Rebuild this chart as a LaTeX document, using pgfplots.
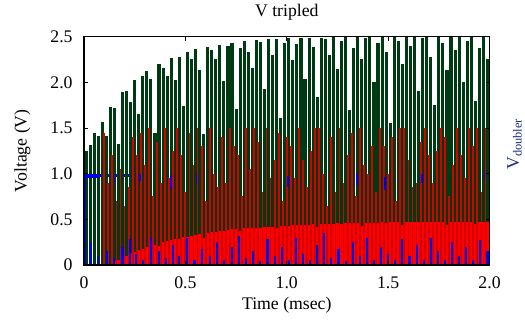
\documentclass[border=0pt]{standalone}
\usepackage{fontspec}
\setmainfont{Liberation Serif}
\usepackage{pgfplots}
\pgfplotsset{compat=1.18}
\definecolor{vgreen}{RGB}{0,58,18}
\definecolor{vred}{RGB}{255,0,0}
\definecolor{vdred}{RGB}{215,0,0}
\definecolor{vblue}{RGB}{0,0,240}
\definecolor{vnavy}{RGB}{25,45,130}
\begin{document}
\fontsize{13.5}{16}\selectfont
\begin{tikzpicture}
\useasboundingbox (0,0) rectangle (400pt,243.8pt);
\begin{axis}[
 at={(64pt,41.9pt)}, anchor=south west,
 scale only axis, width=309pt, height=174pt,
 font=\fontsize{13.5}{16}\selectfont,
 xmin=0, xmax=2, ymin=0, ymax=2.5,
 xtick={0,0.5,1,1.5,2}, xticklabels={0,0.5,1.0,1.5,2.0},
 ytick={0,0.5,1,1.5,2,2.5}, yticklabels={0,0.5,1.0,1.5,2.0,2.5},
 yticklabel style={xshift=-4pt},
 xticklabel style={yshift=-4pt},
 tick align=inside, major tick length=3pt,
 tick style={black, line width=0.7pt},
 axis on top, axis line style={line width=0.8pt},
 clip mode=individual,
]
% blue band under green
\addplot[vblue, line width=2pt] coordinates {(0.07,0.98)(0.22,0.98)};
% green (V tripled)
\addplot[vgreen, ycomb, line width=2.4pt] coordinates {
(0.01,1.25)(0.03,1.31)(0.05,1.44)(0.07,1.41)(0.09,1.57)(0.11,1.41)(0.13,1.73)(0.15,1.72)(0.17,1.32)(0.19,1.89)
(0.21,1.90)(0.23,1.78)(0.25,2.02)(0.27,1.65)(0.29,2.07)(0.31,2.12)(0.33,2.04)(0.35,1.44)(0.37,2.20)(0.39,2.16)
(0.41,2.07)(0.43,2.27)(0.45,2.02)(0.47,2.28)(0.49,1.74)(0.51,2.33)(0.53,2.25)(0.55,2.36)(0.57,2.13)(0.59,1.43)
(0.61,2.39)(0.63,2.35)(0.65,2.26)(0.67,2.41)(0.69,2.01)(0.71,2.40)(0.73,2.43)(0.75,1.71)(0.77,2.37)(0.79,2.45)
(0.81,2.33)(0.83,2.16)(0.85,2.46)(0.87,2.44)(0.89,1.93)(0.91,2.47)(0.93,2.30)(0.95,2.47)(0.97,1.61)(0.99,2.43)
(1.01,2.49)(1.03,2.24)(1.05,2.42)(1.07,2.49)(1.09,2.04)(1.11,2.49)(1.13,2.39)(1.15,1.84)(1.17,2.49)(1.19,2.47)
(1.21,2.30)(1.23,2.50)(1.25,2.15)(1.27,2.45)(1.29,2.50)(1.31,1.70)(1.33,2.38)(1.35,2.50)(1.37,2.25)(1.39,2.48)
(1.41,2.50)(1.43,2.00)(1.45,2.43)(1.47,2.50)(1.49,2.33)(1.51,1.55)(1.53,2.50)(1.55,2.45)(1.57,2.20)(1.59,2.50)
(1.61,2.40)(1.63,2.50)(1.65,1.90)(1.67,2.48)(1.69,2.50)(1.71,2.28)(1.73,1.75)(1.75,2.50)(1.77,2.43)(1.79,2.13)
(1.81,2.50)(1.83,2.35)(1.85,2.50)(1.87,2.00)(1.89,2.45)(1.91,2.50)(1.93,1.80)(1.95,2.38)(1.97,2.50)(1.99,2.25)
};
% red lower envelope
\addplot[vred, ycomb, line width=2.4pt] coordinates {
(0.13,0.01)(0.15,0.04)(0.17,0.06)(0.19,0.08)(0.21,0.10)(0.23,0.13)(0.25,0.14)(0.27,0.16)(0.29,0.17)(0.31,0.20)
(0.33,0.21)(0.35,0.22)(0.37,0.21)(0.39,0.25)(0.41,0.26)(0.43,0.27)(0.45,0.29)(0.47,0.29)(0.49,0.31)(0.51,0.31)
(0.53,0.32)(0.55,0.33)(0.57,0.34)(0.59,0.30)(0.61,0.35)(0.63,0.36)(0.65,0.36)(0.67,0.37)(0.69,0.37)(0.71,0.38)
(0.73,0.39)(0.75,0.39)(0.77,0.37)(0.79,0.40)(0.81,0.40)(0.83,0.41)(0.85,0.41)(0.87,0.41)(0.89,0.42)(0.91,0.42)
(0.93,0.42)(0.95,0.40)(0.97,0.43)(0.99,0.43)(1.01,0.43)(1.03,0.44)(1.05,0.44)(1.07,0.44)(1.09,0.44)(1.11,0.44)
(1.13,0.45)(1.15,0.42)(1.17,0.45)(1.19,0.45)(1.21,0.45)(1.23,0.45)(1.25,0.46)(1.27,0.45)(1.29,0.46)(1.31,0.46)
(1.33,0.46)(1.35,0.46)(1.37,0.43)(1.39,0.46)(1.41,0.46)(1.43,0.46)(1.45,0.46)(1.47,0.47)(1.49,0.46)(1.51,0.47)
(1.53,0.47)(1.55,0.47)(1.57,0.44)(1.59,0.47)(1.61,0.47)(1.63,0.47)(1.65,0.47)(1.67,0.47)(1.69,0.47)(1.71,0.47)
(1.73,0.47)(1.75,0.47)(1.77,0.47)(1.79,0.44)(1.81,0.47)(1.83,0.47)(1.85,0.47)(1.87,0.47)(1.89,0.47)(1.91,0.47)
(1.93,0.45)(1.95,0.47)(1.97,0.47)(1.99,0.47)
};
% red spikes
\addplot[vdred, ycomb, line width=1.4pt] coordinates {
(0.10,1.45)(0.12,0.90)(0.14,1.20)(0.16,0.70)(0.18,1.05)(0.20,0.65)(0.22,0.85)(0.24,1.40)(0.26,1.20)(0.28,1.45)
(0.30,1.10)(0.32,1.50)(0.34,0.75)(0.36,1.35)(0.38,0.90)(0.40,1.50)(0.42,0.95)(0.44,1.25)(0.46,1.50)(0.48,1.20)
(0.50,0.80)(0.52,1.45)(0.54,1.10)(0.56,1.50)(0.58,1.30)(0.60,0.70)(0.62,1.50)(0.64,1.00)(0.66,0.85)(0.68,1.40)
(0.70,0.90)(0.72,1.50)(0.74,1.30)(0.76,1.20)(0.78,0.75)(0.80,1.50)(0.82,1.05)(0.84,1.50)(0.86,1.35)(0.88,0.80)
(0.90,1.50)(0.92,0.95)(0.94,1.15)(0.96,1.45)(0.98,0.70)(1.00,1.40)(1.02,1.30)(1.04,0.95)(1.06,1.50)(1.08,1.15)
(1.10,0.85)(1.12,1.25)(1.14,1.50)(1.16,1.50)(1.18,1.00)(1.20,0.65)(1.22,1.40)(1.24,0.80)(1.26,1.50)(1.28,0.90)
(1.30,1.20)(1.32,1.45)(1.34,0.75)(1.36,1.50)(1.38,1.10)(1.40,1.00)(1.42,1.30)(1.44,0.80)(1.46,1.50)(1.48,1.30)
(1.50,1.00)(1.52,1.40)(1.54,0.70)(1.56,1.50)(1.58,1.50)(1.60,1.15)(1.62,0.85)(1.64,0.90)(1.66,1.35)(1.68,1.50)
(1.70,1.20)(1.72,0.90)(1.74,1.25)(1.76,1.50)(1.78,1.40)(1.80,0.75)(1.82,1.10)(1.84,1.50)(1.86,1.20)(1.88,0.95)
(1.90,1.50)(1.92,1.30)(1.94,1.50)(1.96,0.80)(1.98,1.50)
};
% blue (V doubler)
\addplot[vblue, line width=3pt] coordinates {(0.0,0.97)(0.075,0.97)};
\addplot[vblue, ycomb, line width=2.2pt] coordinates {(0.004,1.0)};
\addplot[vblue, ycomb, line width=1.6pt] coordinates {
(0.035,0.25)(0.07,0.10)(0.115,0.15)(0.15,0.08)(0.19,0.20)(0.225,0.28)(0.255,0.12)(0.29,0.05)(0.33,0.30)(0.37,0.15)
(0.405,0.08)(0.44,0.22)(0.47,0.10)(0.51,0.30)(0.545,0.06)(0.58,0.18)(0.62,0.10)(0.655,0.25)(0.69,0.05)(0.73,0.20)
(0.765,0.32)(0.80,0.08)(0.835,0.15)(0.87,0.04)(0.905,0.28)(0.94,0.10)(0.975,0.20)(1.01,0.06)(1.045,0.30)(1.08,0.12)
(1.115,0.05)(1.15,0.22)(1.185,0.35)(1.22,0.08)(1.255,0.18)(1.29,0.04)(1.325,0.25)(1.36,0.10)(1.395,0.30)(1.43,0.06)
(1.465,0.20)(1.50,0.12)(1.535,0.05)(1.57,0.28)(1.605,0.10)(1.64,0.22)(1.675,0.06)(1.71,0.30)(1.745,0.15)(1.78,0.05)
(1.815,0.25)(1.85,0.10)(1.885,0.20)(1.92,0.06)(1.955,0.27)(1.99,0.15)
};
\addplot[vblue, line width=1.4pt, unbounded coords=jump] coordinates {
(0.155,0.90)(0.155,1.00)(0.155,nan)
(0.275,0.92)(0.275,1.00)(0.275,nan)
(0.43,0.83)(0.43,0.98)(0.43,nan)
(0.555,0.88)(0.555,1.00)(0.555,nan)
(1.005,0.85)(1.005,0.97)(1.005,nan)
(1.345,0.88)(1.345,1.00)(1.345,nan)
(1.485,0.82)(1.485,0.96)(1.485,nan)
(1.665,0.90)(1.665,1.00)(1.665,nan)
(1.975,0.95)(1.975,1.02)
};
\node at ([yshift=18.3pt]rel axis cs:0.5,1) {V tripled};
\node at ([yshift=-30.5pt]rel axis cs:0.5,0) {Time (msec)};
\node[rotate=90] at ([xshift=-47pt]rel axis cs:0,0.5) {Voltage (V)};
\node[rotate=90, text=vnavy] at ([xshift=19pt]rel axis cs:1,0.53) {V\textsubscript{doubler}};
\end{axis}
\end{tikzpicture}
\end{document}
